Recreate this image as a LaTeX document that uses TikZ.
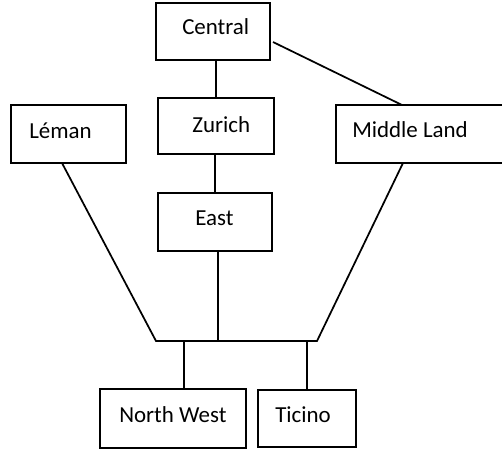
\documentclass[tikz,border=0pt]{standalone}
\usepackage{fontspec}
\setmainfont{Carlito}
\begin{document}
\begin{tikzpicture}[x=0.75pt,y=-0.75pt,
  box/.style 2 args={draw=black,line width=1.3pt,rectangle,inner sep=0pt,outer sep=0pt,fill=white,
    minimum width=#1*0.75pt,minimum height=#2*0.75pt},
  lbl/.style={anchor=base west,inner sep=0pt,font=\fontsize{17.2}{20}\selectfont},
  wire/.style={draw=black,line width=1.3pt}]
\useasboundingbox (0,0) rectangle (502,451);
% boxes
\node[box={114}{57}] (central) at (213,31.5) {};
\node[box={116}{56}] (zurich) at (216,126) {};
\node[box={114}{58}] (east) at (215,222) {};
\node[box={115}{58}] (leman) at (68.5,134) {};
\node[box={167}{58}] (middle) at (419.5,134) {};
\node[box={146}{59}] (nw) at (173,418.5) {};
\node[box={98}{57}] (ticino) at (307,418.5) {};
% labels
\node[lbl] (tcentral) at (182,34) {Central};
\node[lbl] (tzurich) at (192,132) {Zurich};
\node[lbl] (tleman) at (29,138) {Léman};
\node[lbl] (tmiddle) at (352,137) {Middle Land};
\node[lbl] (teast) at (195,225) {East};
\node[lbl] (tnw) at (119,422) {North West};
\node[lbl] (tticino) at (275,422) {Ticino};
% junction
\coordinate (hl) at (156,341);
\coordinate (hr) at (317,341);
\coordinate (ecol) at (218,341);
\coordinate (nwcol) at (184,341);
\coordinate (ticol) at (307,341);
% connectors
\draw[wire] (zurich.north) -- (zurich.north |- central.south);
\draw[wire] (east.north) -- (east.north |- zurich.south);
\draw[wire] ([xshift=3*0.75pt,yshift=-10.5*0.75pt]central.east) -- ([xshift=-17.5*0.75pt]middle.north);
\draw[wire] ([xshift=-6.5*0.75pt]leman.south) -- (hl) -- (hr) -- ([xshift=-16.5*0.75pt]middle.south);
\draw[wire] (ecol |- east.south) -- (ecol);
\draw[wire] (nwcol) -- (nwcol |- nw.north);
\draw[wire] (ticol) -- (ticol |- ticino.north);
\end{tikzpicture}
\end{document}
